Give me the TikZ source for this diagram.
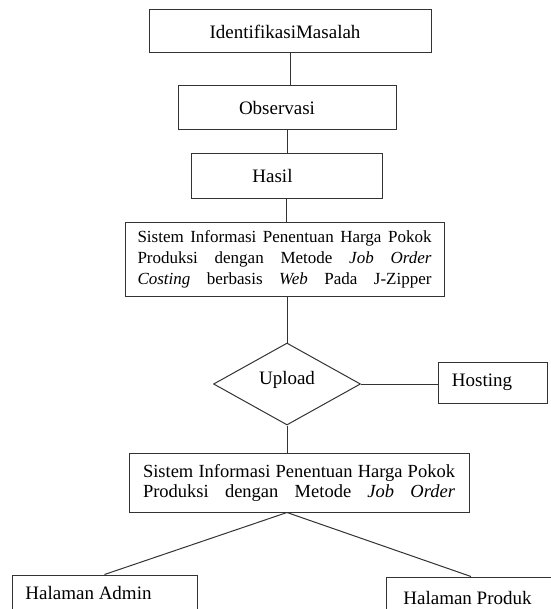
\documentclass[tikz,border=0pt]{standalone}
\usepackage{fontspec}
\setmainfont{Liberation Serif}
\usetikzlibrary{shapes.geometric}

\begin{document}
\begin{tikzpicture}[x=1pt,y=-1pt,
    kotak/.style={draw=black!80,line width=1pt,rectangle,inner sep=0pt,font=\fontsize{19}{21}\selectfont},
    garis/.style={draw=black!80,line width=1pt}]
      \useasboundingbox (0,0) rectangle (550,609);
      \node[kotak,minimum width=282pt,minimum height=43pt] (identifikasi) at (290,31.5) {\hspace*{-10pt}IdentifikasiMasalah};
      \node[kotak,minimum width=218pt,minimum height=44pt] (observasi) at (287,108) {\hspace*{-20pt}Observasi};
      \node[kotak,minimum width=191pt,minimum height=45pt] (hasil) at (286.5,176.5) {\hspace*{-28pt}Hasil};
      \node[kotak,minimum width=319pt,minimum height=73pt,align=left,font=\fontsize{17}{21}\selectfont] (sistem) at (284.5,259.5)
        {\makebox[294pt][s]{Sistem Informasi Penentuan Harga Pokok}\\
         \makebox[294pt][s]{Produksi dengan Metode \textit{Job Order}}\\
         \makebox[294pt][s]{\textit{Costing} berbasis \textit{Web} Pada J-Zipper}};
      \node[kotak,diamond,minimum width=147pt,minimum height=82pt,text height=0pt,text depth=0pt] (upload) at (287,384) {Upload};
      \node[kotak,minimum width=109pt,minimum height=41pt] (hosting) at (492.5,382.5) {\hspace*{-21pt}Hosting};
      \node[kotak,minimum width=340pt,minimum height=59pt,align=left,font=\fontsize{18.5}{20}\selectfont] (sistemdua) at (299,482.5)
        {\makebox[312pt][s]{Sistem Informasi Penentuan Harga Pokok}\\
         \makebox[312pt][s]{Produksi dengan Metode \textit{Job Order}}};
      \node[kotak,minimum width=185pt,minimum height=36pt] (admin) at (104.5,593) {\hspace*{-32pt}Halaman Admin};
      \node[kotak,minimum width=170pt,minimum height=42pt] (produk) at (471,598) {\hspace*{-7pt}Halaman Produk};
      \coordinate (pisah) at (upload.south |- sistemdua.south);
      \draw[garis] (identifikasi.south) -- (identifikasi.south |- observasi.north);
      \draw[garis] (observasi.south) -- (observasi.south |- hasil.north);
      \draw[garis] (hasil.south) -- (hasil.south |- sistem.north);
      \draw[garis] (upload.north |- sistem.south) -- (upload.north);
      \draw[garis] (upload.east) -- (upload.east -| hosting.west);
      \draw[garis] (upload.south) -- (upload.south |- sistemdua.north);
      \draw[garis] (pisah) -- (admin.north);
      \draw[garis] (pisah) -- (produk.north);
    \end{tikzpicture}
\end{document}
